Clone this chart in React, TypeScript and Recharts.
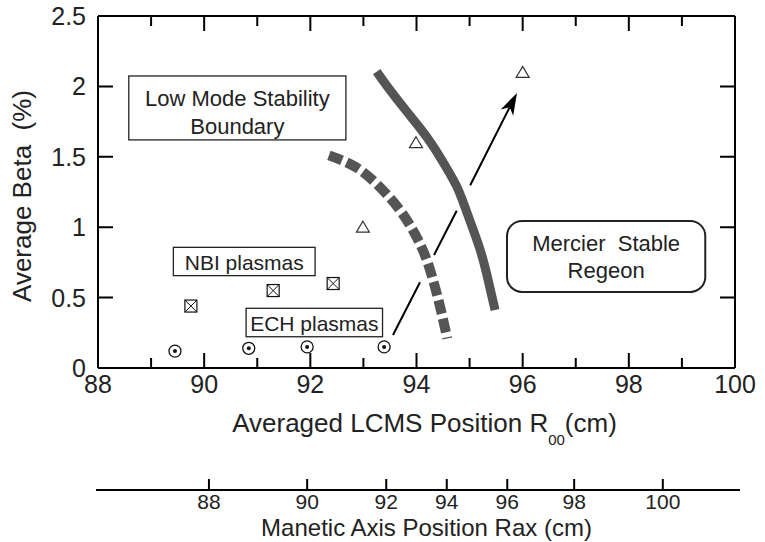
import React from 'react';
import { ComposedChart, XAxis, YAxis, Scatter, ReferenceArea, Curve } from 'recharts';

// ---------- data ----------
const xMajorTicks = [88, 90, 92, 94, 96, 98, 100];
const xMinorTicks = [89, 91, 93, 95, 97, 99];
const xTicks = [88, 89, 90, 91, 92, 93, 94, 95, 96, 97, 98, 99, 100];
const yTicks = [0, 0.5, 1, 1.5, 2, 2.5];
const yTickLabels = ['0', '0.5', '1', '1.5', '2', '2.5'];
// secondary axis: Rax labels and where they sit on the R00 scale
const raxTickLabels = ['88', '90', '92', '94', '96', '98', '100'];
const raxTickR00 = [90.09, 91.94, 93.43, 94.57, 95.71, 96.97, 98.64];

const echR00 = [89.45, 90.84, 91.94, 93.39];
const echBeta = [0.12, 0.14, 0.15, 0.15];
const nbiR00 = [89.75, 91.3, 92.43];
const nbiBeta = [0.44, 0.55, 0.6];
const triR00 = [92.99, 93.99, 96.0];
const triBeta = [1.0, 1.6, 2.1];

const mercierR00 = [93.25, 93.5, 93.82, 94.07, 94.32, 94.57, 94.76, 94.91, 95.07, 95.2, 95.32, 95.48];
const mercierBeta = [2.105, 1.974, 1.82, 1.702, 1.572, 1.418, 1.288, 1.146, 0.98, 0.838, 0.672, 0.412];
const lowModeR00 = [92.35, 92.84, 93.27, 93.65, 93.93, 94.16, 94.33, 94.46, 94.58];
const lowModeBeta = [1.51, 1.43, 1.3, 1.14, 0.98, 0.8, 0.6, 0.41, 0.21];
// arrow: start, visible-segment ends/starts around the two crossings, tip
const arrowR00 = [93.557, 94.066, 94.33, 94.757, 95.012, 95.893];
const arrowBeta = [0.234, 0.609, 0.803, 1.117, 1.298, 1.953];
const frameR00 = [88, 100];
const frameBeta = [0, 2.5];

const toPts = (xs: number[], ys: number[]) => xs.map((x, i) => ({ x, y: ys[i] }));
const echData = toPts(echR00, echBeta);
const nbiData = toPts(nbiR00, nbiBeta);
const triData = toPts(triR00, triBeta);
const mercierData = toPts(mercierR00, mercierBeta);
const lowModeData = toPts(lowModeR00, lowModeBeta);
const arrowData = toPts(arrowR00, arrowBeta);
const frameData = toPts(frameR00, frameBeta);
const bottomMajor = xMajorTicks.map((x) => ({ x, y: frameBeta[0] }));
const bottomMinor = xMinorTicks.map((x) => ({ x, y: frameBeta[0] }));
const topMajor = xMajorTicks.map((x) => ({ x, y: frameBeta[1] }));
const topMinor = xMinorTicks.map((x) => ({ x, y: frameBeta[1] }));
const leftTicks = yTicks.map((y) => ({ x: frameR00[0], y }));
const rightTicks = yTicks.map((y) => ({ x: frameR00[1], y }));

// annotation boxes (data coordinates)
const boxes = [
  { key: 'low', lines: ['Low Mode Stability', 'Boundary'], x1: 88.58, x2: 92.67, y1: 1.62, y2: 2.074, rx: 0, fs: 22, offs: [30, 58], sw: 1.3 },
  { key: 'nbi', lines: ['NBI plasmas'], x1: 89.42, x2: 92.09, y1: 0.656, y2: 0.857, rx: 0, fs: 21, offs: [22.5], sw: 1.3 },
  { key: 'ech', lines: ['ECH plasmas'], x1: 90.79, x2: 93.36, y1: 0.222, y2: 0.424, rx: 0, fs: 21, offs: [22.5], sw: 1.3 },
  { key: 'mer', lines: ['Mercier  Stable', 'Regeon'], x1: 95.705, x2: 99.44, y1: 0.54, y2: 1.044, rx: 15, fs: 22, offs: [30, 57], sw: 2 },
];

const FONT = '"Liberation Sans", Arial, Helvetica, sans-serif';
const TXT = '#222';

// ---------- shapes ----------
const Empty = () => <g />;
const EchShape = (p: any) => (
  <g>
    <circle cx={p.cx} cy={p.cy} r={6} fill="#fff" stroke="#111" strokeWidth={1.3} />
    <circle cx={p.cx} cy={p.cy} r={2} fill="#111" />
  </g>
);
const NbiShape = (p: any) => {
  const s = 6;
  const { cx, cy } = p;
  return (
    <g>
      <rect x={cx - s} y={cy - s} width={2 * s} height={2 * s} fill="#fff" stroke="#111" strokeWidth={1.2} />
      <path d={`M${cx - s},${cy - s}L${cx + s},${cy + s}M${cx + s},${cy - s}L${cx - s},${cy + s}`} stroke="#111" strokeWidth={1} />
    </g>
  );
};
const TriShape = (p: any) => {
  const { cx, cy } = p;
  return <path d={`M${cx},${cy - 6}L${cx + 6.5},${cy + 5}L${cx - 6.5},${cy + 5}Z`} fill="#fff" stroke="#333" strokeWidth={1.2} />;
};

// inward frame ticks, drawn through the scatter "line" hook at each frame point
const tickLines = (dx: number, dy: number) => (lp: any) => {
  const pts = lp.points || [];
  const d = pts.map((q: any) => `M${q.x},${q.y}l${dx},${dy}`).join('');
  return <path d={d} stroke="#000" strokeWidth={2} fill="none" />;
};

const curveLine = (dashed: boolean) => (lp: any) => (
  <Curve
    points={lp.points}
    type="natural"
    fill="none"
    stroke="#555"
    strokeWidth={dashed ? 10 : 9}
    strokeDasharray={dashed ? '14 5' : undefined}
  />
);

const arrowLine = (lp: any) => {
  const pts = lp.points;
  if (!pts || pts.length < 2) return <g />;
  const s = pts[0];
  const t = pts[pts.length - 1];
  const dx = t.x - s.x;
  const dy = t.y - s.y;
  const len = Math.hypot(dx, dy);
  const ux = dx / len;
  const uy = dy / len;
  const nx = -uy;
  const ny = ux;
  const L = 22;
  const W = 7;
  const N = 16;
  const bx = t.x - L * ux;
  const by = t.y - L * uy;
  const head = `M${t.x},${t.y}L${bx + W * nx},${by + W * ny}L${t.x - N * ux},${t.y - N * uy}L${bx - W * nx},${by - W * ny}Z`;
  let d = '';
  for (let i = 0; i + 1 < pts.length; i += 2) {
    const a = pts[i];
    const b = i + 1 === pts.length - 1 ? { x: t.x - N * ux, y: t.y - N * uy } : pts[i + 1];
    d += `M${a.x},${a.y}L${b.x},${b.y}`;
  }
  return (
    <g>
      <path d={d} stroke="#000" strokeWidth={2} fill="none" />
      <path d={head} fill="#000" stroke="none" />
    </g>
  );
};

// ---------- axis ticks ----------
const BottomTick = (p: any) => {
  const v = p.payload.value;
  if (v % 2 !== 0) return <g />;
  return (
    <text x={p.x} y={p.y + 25} textAnchor="middle" fontSize={25} fill={TXT} fontFamily={FONT}>
      {v}
    </text>
  );
};
const LeftTick = (p: any) => {
  const idx = yTicks.indexOf(p.payload.value);
  return (
    <text x={p.x} y={p.y} dy="0.36em" textAnchor="end" fontSize={25} fill={TXT} fontFamily={FONT}>
      {yTickLabels[idx]}
    </text>
  );
};
const RAX_LINE = 11;
const RaxTick = (p: any) => {
  const idx = raxTickR00.indexOf(p.payload.value);
  return (
    <g>
      <path d={`M${p.x},${p.y}v${RAX_LINE}`} stroke="#000" strokeWidth={2} fill="none" />
      <text x={p.x} y={p.y + RAX_LINE + 19} textAnchor="middle" fontSize={21} fill={TXT} fontFamily={FONT}>
        {raxTickLabels[idx]}
      </text>
    </g>
  );
};

// ---------- labels ----------
const MainXLabel = (p: any) => {
  const vb = p.viewBox;
  return (
    <text x={vb.x + vb.width / 2 + 8} y={vb.y + 64} textAnchor="middle" fontSize={26} fill={TXT} fontFamily={FONT}>
      Averaged LCMS Position R
      <tspan fontSize={15} dy={13}>00</tspan>
      <tspan dy={-13}>(cm)</tspan>
    </text>
  );
};
const RaxLabel = (p: any) => {
  const vb = p.viewBox;
  const ly = vb.y + RAX_LINE;
  return (
    <g>
      <rect x={vb.x - 2} y={ly - 1} width={vb.width + 7} height={2} fill="#000" />
      <text x={vb.x + vb.width / 2 + 10} y={vb.y + 57} textAnchor="middle" fontSize={24} fill={TXT} fontFamily={FONT}>
        Manetic Axis Position Rax (cm)
      </text>
    </g>
  );
};
const YLabel = (p: any) => {
  const vb = p.viewBox;
  const cx = vb.x + 31;
  const cy = vb.y + vb.height / 2 + 4;
  return (
    <text
      x={cx}
      y={cy}
      textAnchor="middle"
      fontSize={26}
      fill={TXT}
      fontFamily={FONT}
      transform={`rotate(-90 ${cx} ${cy})`}
      style={{ whiteSpace: 'pre' }}
    >
      {'Average Beta  (%)'}
    </text>
  );
};

const boxShape = (b: any) => (p: any) => {
  const { x, y, width, height } = p;
  return (
    <g>
      <rect x={x} y={y} width={width} height={height} rx={b.rx} ry={b.rx} fill="#fff" stroke="#222" strokeWidth={b.sw} />
      {b.lines.map((t: string, i: number) => (
        <text
          key={i}
          x={x + width / 2}
          y={y + b.offs[i]}
          textAnchor="middle"
          fontSize={b.fs}
          fill={TXT}
          fontFamily={FONT}
          style={{ whiteSpace: 'pre' }}
        >
          {t}
        </text>
      ))}
    </g>
  );
};

const axisLine = { stroke: '#000', strokeWidth: 2 };

export default function App() {
  return (
    <div style={{ position: 'absolute', left: 0, top: 0, background: '#fff' }}>
      <ComposedChart width={765} height={542} margin={{ top: 0, right: 0, bottom: 0, left: 0 }} style={{ fontFamily: FONT }}>
        <XAxis
          xAxisId="main"
          type="number"
          dataKey="x"
          domain={[88, 100]}
          allowDataOverflow
          ticks={xTicks}
          interval={0}
          height={111}
          tickSize={0}
          tickMargin={0}
          tickLine={false}
          tick={<BottomTick />}
          axisLine={axisLine}
          label={MainXLabel}
        />
        <XAxis
          xAxisId="rax"
          type="number"
          dataKey="x"
          domain={[88, 100]}
          allowDataOverflow
          ticks={raxTickR00}
          interval={0}
          height={63}
          tickSize={0}
          tickMargin={0}
          tickLine={false}
          tick={<RaxTick />}
          axisLine={false}
          label={RaxLabel}
        />
        <XAxis
          xAxisId="top"
          orientation="top"
          type="number"
          dataKey="x"
          domain={[88, 100]}
          allowDataOverflow
          height={16}
          tick={false}
          tickLine={false}
          axisLine={axisLine}
        />
        <YAxis
          yAxisId="left"
          type="number"
          dataKey="y"
          domain={[0, 2.5]}
          allowDataOverflow
          ticks={yTicks}
          interval={0}
          width={98}
          tickSize={0}
          tickMargin={12}
          tickLine={false}
          tick={<LeftTick />}
          axisLine={axisLine}
          label={YLabel}
        />
        <YAxis
          yAxisId="right"
          orientation="right"
          type="number"
          dataKey="y"
          domain={[0, 2.5]}
          allowDataOverflow
          width={30}
          tick={false}
          tickLine={false}
          axisLine={axisLine}
        />
        {boxes.map((b) => (
          <ReferenceArea
            key={b.key}
            xAxisId="main"
            yAxisId="left"
            x1={b.x1}
            x2={b.x2}
            y1={b.y1}
            y2={b.y2}
            ifOverflow="visible"
            shape={boxShape(b)}
          />
        ))}
        {/* invisible carriers so the frame / secondary axes get their scales */}
        <Scatter xAxisId="top" yAxisId="right" data={frameData} shape={Empty} isAnimationActive={false} />
        <Scatter xAxisId="rax" yAxisId="left" data={frameData} shape={Empty} isAnimationActive={false} />
        {/* inward frame ticks */}
        <Scatter xAxisId="main" yAxisId="left" data={bottomMajor} shape={Empty} line={tickLines(0, -15)} lineType="joint" isAnimationActive={false} />
        <Scatter xAxisId="main" yAxisId="left" data={bottomMinor} shape={Empty} line={tickLines(0, -10)} lineType="joint" isAnimationActive={false} />
        <Scatter xAxisId="main" yAxisId="left" data={topMajor} shape={Empty} line={tickLines(0, 15)} lineType="joint" isAnimationActive={false} />
        <Scatter xAxisId="main" yAxisId="left" data={topMinor} shape={Empty} line={tickLines(0, 10)} lineType="joint" isAnimationActive={false} />
        <Scatter xAxisId="main" yAxisId="left" data={leftTicks} shape={Empty} line={tickLines(15, 0)} lineType="joint" isAnimationActive={false} />
        <Scatter xAxisId="main" yAxisId="left" data={rightTicks} shape={Empty} line={tickLines(-15, 0)} lineType="joint" isAnimationActive={false} />
        {/* curves, arrow, markers */}
        <Scatter xAxisId="main" yAxisId="left" data={lowModeData} shape={Empty} line={curveLine(true)} lineType="joint" isAnimationActive={false} />
        <Scatter xAxisId="main" yAxisId="left" data={mercierData} shape={Empty} line={curveLine(false)} lineType="joint" isAnimationActive={false} />
        <Scatter xAxisId="main" yAxisId="left" data={arrowData} shape={Empty} line={arrowLine} lineType="joint" isAnimationActive={false} />
        <Scatter xAxisId="main" yAxisId="left" data={echData} shape={EchShape} isAnimationActive={false} />
        <Scatter xAxisId="main" yAxisId="left" data={nbiData} shape={NbiShape} isAnimationActive={false} />
        <Scatter xAxisId="main" yAxisId="left" data={triData} shape={TriShape} isAnimationActive={false} />
      </ComposedChart>
    </div>
  );
}
